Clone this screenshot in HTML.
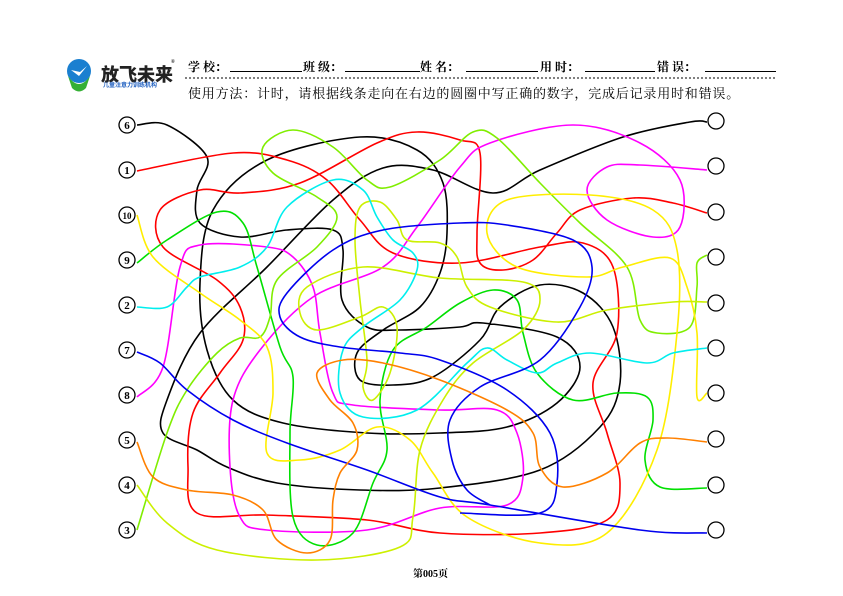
<!DOCTYPE html>
<html><head><meta charset="utf-8"><style>
body{margin:0;background:#fff;width:843px;height:596px;overflow:hidden;position:relative;font-family:"Liberation Serif","Noto Serif CJK SC",serif}
.t{position:absolute;font-size:12px;font-weight:bold;color:#000;white-space:nowrap}
.u{position:absolute;border-bottom:1px solid #000;height:0}
</style></head><body>
<svg width="843" height="596" style="position:absolute;left:0;top:0">
<circle cx="79" cy="71" r="12" fill="#1a7fd0"/>
<path d="M68 76 Q79 92 90 76 L86 88 Q79 95 72 88Z" fill="#35b035"/>
<path d="M71 70 L79 76 L87 66 L80 72Z" fill="#fff"/>
<line x1="185" y1="78" x2="776" y2="78" stroke="#000" stroke-dasharray="2,2" stroke-width="1"/>
<g id="lines" fill="none" stroke-width="1.6"></g>
<g id="circ" fill="#fff" stroke="#000" stroke-width="1.3"></g>
</svg>
<div class="t" style="left:101px;top:61px;font-size:18px;font-family:'Liberation Sans','Noto Sans CJK SC',sans-serif;font-weight:900;color:#222">放飞未来</div>
<div class="t" style="left:171px;top:60px;font-size:5px">®</div>
<div class="t" style="left:103px;top:80px;font-size:6px;color:#2060c0;font-family:'Liberation Sans','Noto Sans CJK SC',sans-serif">儿童注意力训练机构</div>
<div class="t" style="left:188px;top:58px">学 校：</div><div class="u" style="left:230px;top:71px;width:72px"></div>
<div class="t" style="left:303px;top:58px">班 级：</div><div class="u" style="left:345px;top:71px;width:75px"></div>
<div class="t" style="left:420px;top:58px">姓 名：</div><div class="u" style="left:466px;top:71px;width:72px"></div>
<div class="t" style="left:540px;top:58px">用 时：</div><div class="u" style="left:585px;top:71px;width:70px"></div>
<div class="t" style="left:657px;top:58px">错 误：</div><div class="u" style="left:705px;top:71px;width:71px"></div>
<div class="t" style="left:188px;top:83px;font-size:13px;font-weight:normal;letter-spacing:0.8px">使用方法：计时，请根据线条走向在右边的圆圈中写正确的数字，完成后记录用时和错误。</div>
<div class="t" style="left:413px;top:565px;font-size:10px">第005页</div>
<script>
function cr(p){var d="M"+p[0][0]+" "+p[0][1];for(var i=0;i<p.length-1;i++){var a=p[i-1]||p[i],b=p[i],c=p[i+1],e=p[i+2]||c;d+=" C"+(b[0]+(c[0]-a[0])/6)+" "+(b[1]+(c[1]-a[1])/6)+" "+(c[0]-(e[0]-b[0])/6)+" "+(c[1]-(e[1]-b[1])/6)+" "+c[0]+" "+c[1];}return d;}
var L=[
["#000",[[137,125],[167,125],[207,157],[197,190],[200,223],[240,237],[287,230],[333,230],[343,250],[342,300],[367,327],[400,330],[460,327],[483,323],[557,337],[580,367],[557,403],[507,427],[440,433],[367,433],[283,423],[233,400],[207,350],[200,283],[213,210],[267,160],[360,137],[417,150],[443,183],[447,233],[440,273],[420,307],[383,330],[357,353],[360,380],[393,385],[433,377],[480,340],[500,307],[540,285],[583,293],[613,327],[620,383],[600,427],[540,470],[440,488],[360,490],[277,483],[227,467],[197,450],[163,433],[167,400],[200,333],[267,267],[333,200],[383,168],[433,170],[493,193],[540,170],[623,137],[690,122],[707,122]]],
["#ff0000",[[137,171],[233,153],[287,160],[327,180],[360,220],[393,253],[460,263],[540,247],[583,243],[613,267],[617,333],[593,383],[607,433],[620,483],[607,520],[540,533],[440,533],[367,520],[267,515],[197,513],[188,467],[193,413],[220,373],[243,340],[240,307],[217,280],[163,247],[160,210],[200,190],[240,193],[300,183],[377,143],[417,132],[460,140],[480,153],[477,233],[480,263],[503,270],[533,260],[557,233],[580,210],[633,198],[673,203],[707,213]]],
["#ff00ff",[[137,397],[163,367],[180,267],[200,245],[267,247],[293,257],[313,287],[320,333],[333,393],[353,405],[440,410],[497,410],[517,433],[523,477],[507,505],[440,508],[367,530],[267,530],[240,517],[230,467],[233,400],[260,350],[313,297],[383,267],[417,227],[460,167],[490,143],[573,125],[640,143],[680,180],[680,227],[653,237],[607,220],[587,190],[607,167],[640,165],[707,170]]],
["#00e000",[[137,263],[167,240],[217,212],[243,223],[257,267],[280,347],[293,377],[290,433],[293,517],[317,545],[353,533],[373,483],[387,450],[380,400],[393,350],[427,327],[460,303],[493,290],[517,300],[523,333],[537,373],[573,400],[617,393],[647,397],[653,420],[645,460],[660,487],[707,488]]],
["#80ee00",[[137,530],[167,433],[187,390],[217,353],[240,338],[260,337],[270,317],[277,280],[317,247],[337,217],[317,197],[273,173],[263,147],[293,130],[333,147],[367,180],[390,187],[440,160],[473,132],[497,138],[540,183],[580,223],[627,267],[640,320],[657,333],[690,327],[697,287],[697,263],[707,255]]],
["#ffee00",[[137,215],[153,257],[200,293],[240,320],[267,347],[273,393],[267,453],[300,460],[340,450],[377,427],[410,440],[433,473],[467,517],[540,543],[607,533],[657,450],[677,333],[677,250],[653,210],[590,195],[507,200],[487,233],[517,267],[587,277],[623,267],[670,258],[687,287],[697,333],[697,397],[707,393]]],
["#ccf000",[[137,485],[167,523],[217,550],[317,560],[400,547],[413,517],[420,450],[443,400],[473,363],[523,330],[540,300],[523,282],[440,278],[363,267],[307,287],[300,313],[317,330],[360,317],[383,307],[397,327],[390,373],[373,400],[363,387],[367,360],[360,300],[355,240],[360,207],[380,202],[397,220],[407,240],[440,243],[457,257],[467,287],[490,307],[557,322],[607,310],[673,302],[707,302]]],
["#00eeee",[[137,307],[167,307],[187,287],[200,277],[240,267],[267,247],[287,207],[333,180],[363,190],[377,217],[393,240],[413,253],[417,270],[400,300],[363,327],[343,350],[340,393],[363,417],[417,410],[467,363],[487,348],[507,360],[537,373],[557,363],[590,353],[647,363],[673,353],[707,348]]],
["#0000ee",[[137,352],[160,363],[187,390],[233,420],[287,443],[367,470],[440,497],[490,505],[640,530],[707,533]]],
["#0000ee",[[460,513],[540,513],[557,483],[550,433],[507,390],[440,360],[400,353],[340,347],[300,337],[280,317],[287,293],[333,250],[383,230],[460,223],[507,225],[573,240],[592,267],[580,307],[540,360],[480,387],[450,420],[452,460],[467,490],[490,505]]],
["#ff8000",[[137,442],[153,477],[187,490],[233,495],[263,510],[277,540],[307,553],[330,540],[333,500],[340,473],[357,450],[353,423],[330,400],[317,373],[343,360],[383,363],[440,380],[507,410],[533,433],[540,467],[563,487],[607,473],[640,443],[667,438],[707,442]]]
];
var g=document.getElementById("lines"),h="";
L.forEach(function(l){h+='<path stroke="'+l[0]+'" d="'+cr(l[1])+'"/>';});
g.innerHTML=h;
var ly=[125,170,215,260,305,350,395,440,485,530],lb=["6","1","10","9","2","7","8","5","4","3"],ry=[121,166,212,257,303,348,393,439,485,530],c="";
for(var i=0;i<10;i++){c+='<circle cx="127" cy="'+ly[i]+'" r="8"/><text x="127" y="'+(ly[i]+4)+'" text-anchor="middle" font-size="'+(lb[i].length>1?9:11)+'" font-weight="bold" font-family="Liberation Serif" fill="#000" stroke="none">'+lb[i]+'</text>';c+='<circle cx="716" cy="'+ry[i]+'" r="8"/>';}
document.getElementById("circ").innerHTML=c;
</script>
</body></html>
